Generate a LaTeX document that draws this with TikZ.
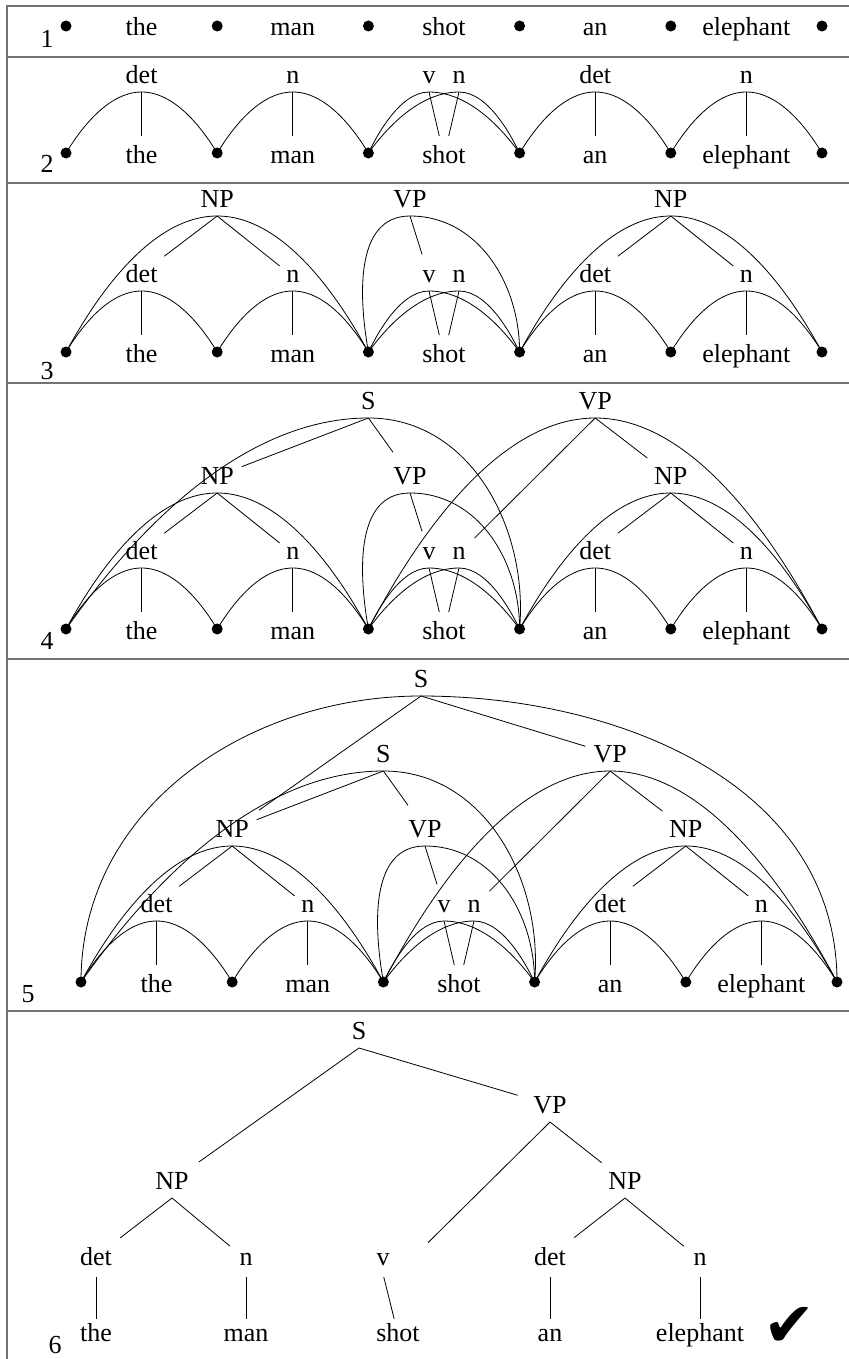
\documentclass[tikz,border=0pt]{standalone}
\usepackage{fontspec}
\setmainfont{Liberation Serif}
\newfontfamily\dingfont{DejaVu Sans}

\begin{document}
\begin{tikzpicture}[x=0.5pt, y=0.5pt, every node/.style={font=\fontsize{13}{15}\selectfont}]
		\tikzstyle{dot}=[circle,fill,inner sep=0pt,minimum size=5.5pt]
		\tikzstyle{word}=[anchor=base,inner sep=0pt,text height=0.69em]
		\tikzstyle{cat}=[anchor=south,inner xsep=0pt,inner ysep=4pt]
		\tikzstyle{panel}=[draw=black!55,line width=0.75pt]
		\tikzstyle{stem}=[shorten >=6.5pt]
		\tikzstyle{twig}=[shorten >=4pt]
		\useasboundingbox (0,0) rectangle (849,-1359);
		
		\draw[panel] (849,-6) -- (7,-6) -- (7,-1359);
		\foreach \y in {57,183,383,659,1011}
		\draw[panel] (7,-\y) -- (849,-\y);
		
		\foreach \p/\x/\y in {1/47/-48, 2/47/-172, 3/47/-379, 4/47/-649, 5/28/-1002, 6/55/-1353}
		\node[anchor=base](n-\p) at (\x,\y) {\p};
		
		\foreach \p/\dx/\dy in {1/0/-26, 2/0/-153, 3/0/-352, 4/0/-629, 5/15/-982}{
			\foreach \i in {1,...,6}
			\node[dot](d-\p-\i) at ({66+151.2*(\i-1)+\dx}, \dy) {};
			\foreach \w [count=\i] in {the,man,shot,an,elephant}
			\node[word](w-\p-\i) at ({141.6+151.2*(\i-1)+\dx}, \dy-10) {\w};
		}
		
		\foreach \p/\dx/\dy in {2/0/-153, 3/0/-352, 4/0/-629, 5/15/-982}{
			\foreach \c/\x/\k [count=\j, evaluate=\k as \kk using int(\k+1)] in {det/141.6/1, n/292.8/2, v/429/3, n/459/3, det/595.2/4, n/746.4/5}{
				\node[cat](c-\p-\j) at (\x+\dx, \dy+61) {\c};
				\draw (d-\p-\k.center) parabola bend (c-\p-\j.south) (d-\p-\kk.center);
				\draw[stem] (c-\p-\j.south) -- (w-\p-\k);
			}
		}
		
		\foreach \p/\dx/\dy in {3/0/-352, 4/0/-629, 5/15/-982}{
			\node[cat](np-\p) at (217.2+\dx, \dy+136) {NP};
			\node[cat](vp-\p) at (410+\dx, \dy+136) {VP};
			\node[cat](nq-\p) at (670.8+\dx, \dy+136) {NP};
			\draw (d-\p-1.center) parabola bend (np-\p.south) (d-\p-3.center);
			\draw (d-\p-3.center) to[out=100,in=180] (vp-\p.south) to[out=0,in=90] (d-\p-4.center);
			\draw (d-\p-4.center) parabola bend (nq-\p.south) (d-\p-6.center);
			\draw[twig] (np-\p.south) -- (c-\p-1);
			\draw[twig] (np-\p.south) -- (c-\p-2);
			\draw[twig] (vp-\p.south) -- (c-\p-3);
			\draw[twig] (nq-\p.south) -- (c-\p-5);
			\draw[twig] (nq-\p.south) -- (c-\p-6);
		}
		
		\foreach \p/\dx/\dy in {4/0/-629, 5/15/-982}{
			\node[cat](s-\p) at (368.4+\dx, \dy+211) {S};
			\node[cat](vq-\p) at (595.2+\dx, \dy+211) {VP};
			\draw (d-\p-1.center) parabola[bend at end] (s-\p.south) to[out=0,in=85] (d-\p-4.center);
			\draw (d-\p-3.center) parabola bend (vq-\p.south) (d-\p-6.center);
			\draw[twig] (s-\p.south) -- (np-\p);
			\draw[twig] (s-\p.south) -- (vp-\p);
			\draw[twig,shorten >=6pt] (vq-\p.south) -- (c-\p-4);
			\draw[twig] (vq-\p.south) -- (nq-\p);
		}
		
		\node[cat](t-5) at (421,-696) {S};
		\draw (d-5-1.center) to[out=90,in=180] (t-5.south) to[out=0,in=90] (d-5-6.center);
		\draw[twig,shorten >=6pt] (t-5.south) -- (np-5);
		\draw[twig] (t-5.south) -- (vq-5);
		
		\node[cat](s-6) at (359,-1048) {S};
		\node[cat](vp-6) at (550,-1122) {VP};
		\node[cat](np-6) at (172,-1198) {NP};
		\node[cat](nq-6) at (625,-1198) {NP};
		\foreach \c/\x/\w/\wx [count=\i] in {det/96/the/96, n/246/man/246, v/383/shot/398, det/550/an/550, n/700/elephant/700}{
			\node[cat](c-6-\i) at (\x,-1274) {\c};
			\node[word](w-6-\i) at (\wx,-1341) {\w};
			\draw[shorten <=1.5pt,shorten >=4pt] (c-6-\i.south) -- (w-6-\i);
		}
		\draw[twig,shorten >=6pt] (s-6.south) -- (np-6);
		\draw[twig,shorten >=8pt] (s-6.south) -- (vp-6);
		\draw[twig,shorten >=12pt] (vp-6.south) -- ([xshift=14pt]c-6-3.center);
		\draw[twig] (vp-6.south) -- (nq-6);
		\draw[twig,shorten >=5pt] (np-6.south) -- (c-6-1);
		\draw[twig,shorten >=6pt] (np-6.south) -- (c-6-2);
		\draw[twig,shorten >=5pt] (nq-6.south) -- (c-6-4);
		\draw[twig,shorten >=6pt] (nq-6.south) -- (c-6-5);
		\node[font=\dingfont\fontsize{31}{33}\selectfont,inner sep=0pt](ok) at (789,-1327) {✔};
\end{tikzpicture}
\end{document}
